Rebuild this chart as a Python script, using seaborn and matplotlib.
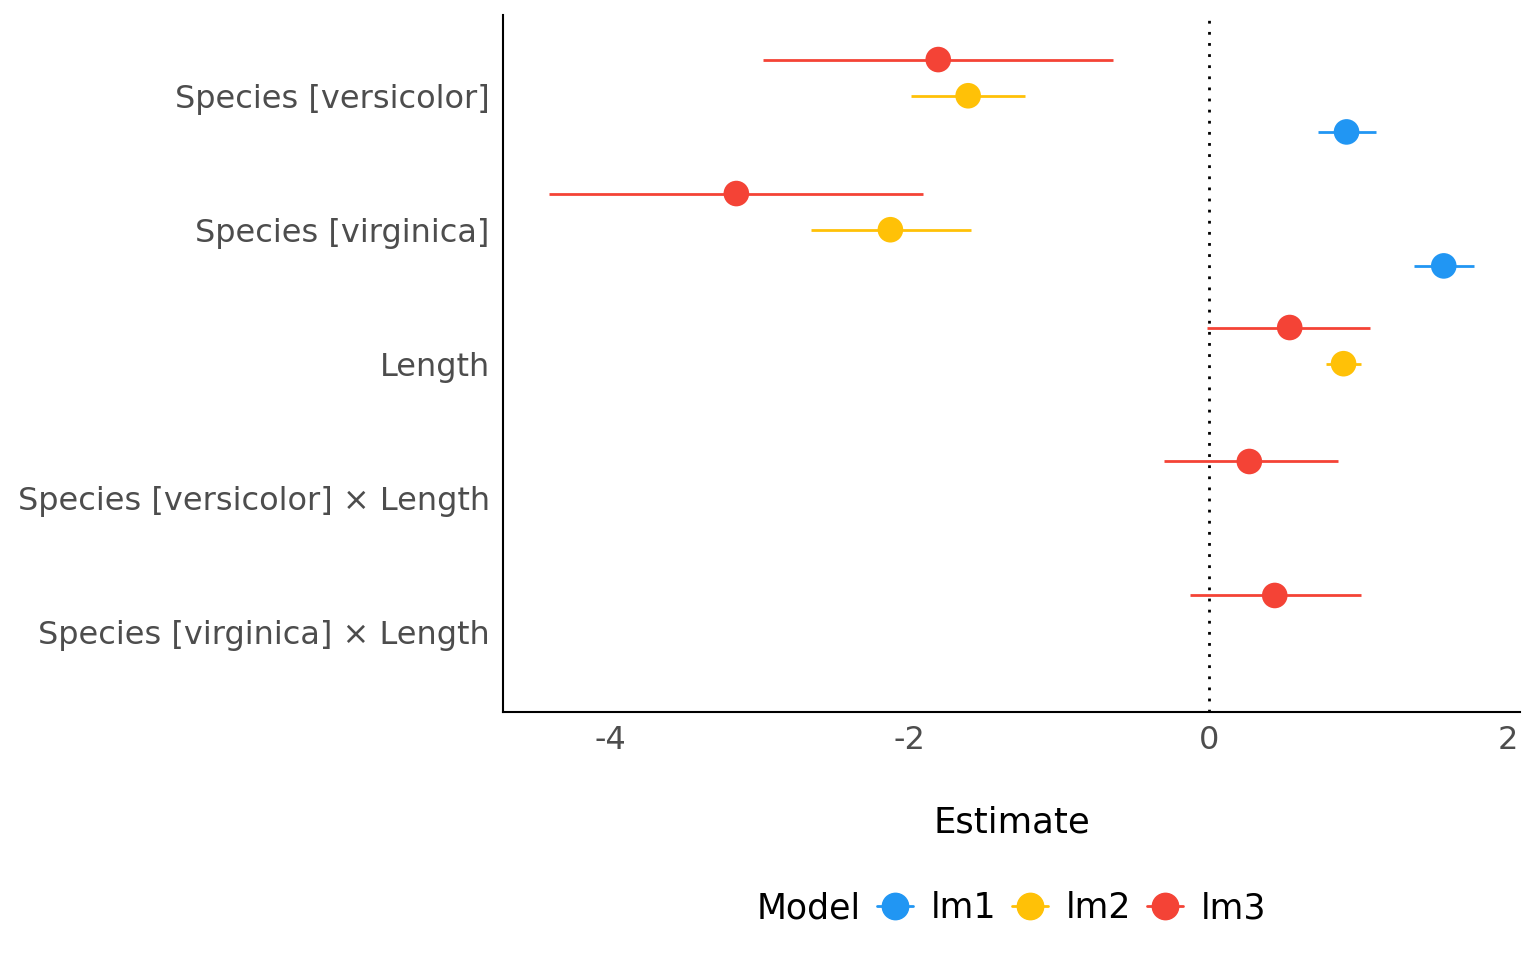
import numpy as np
import pandas as pd
import seaborn as sns
import matplotlib.pyplot as plt
from matplotlib.lines import Line2D

terms = ["Species [versicolor]", "Species [virginica]", "Length",
         "Species [versicolor] × Length", "Species [virginica] × Length"]
models = ["lm1", "lm2", "lm3"]
colors = {"lm1": "#2196F3", "lm2": "#FFC107", "lm3": "#F44336"}

# estimates and intervals (None = term not in model)
est = {
    "lm1": [0.92, 1.57, None, None, None],
    "lm2": [-1.61, -2.13, 0.90, None, None],
    "lm3": [-1.81, -3.16, 0.54, 0.27, 0.44],
}
low = {
    "lm1": [0.73, 1.37, None, None, None],
    "lm2": [-1.99, -2.66, 0.78, None, None],
    "lm3": [-2.98, -4.41, -0.01, -0.30, -0.13],
}
high = {
    "lm1": [1.12, 1.77, None, None, None],
    "lm2": [-1.23, -1.59, 1.02, None, None],
    "lm3": [-0.64, -1.91, 1.08, 0.86, 1.02],
}

rows = []
for m in models:
    for i, t in enumerate(terms):
        if est[m][i] is not None:
            rows.append({"term": t, "model": m, "estimate": est[m][i],
                         "lo": low[m][i], "hi": high[m][i]})
df = pd.DataFrame(rows)

offset = {"lm1": 0.27, "lm2": 0.0, "lm3": -0.27}
df["y"] = df["term"].map({t: i for i, t in enumerate(terms)}) + df["model"].map(offset)

sns.set_style("white")
plt.rcParams["font.family"] = ["DejaVu Sans"]
plt.rcParams["axes.unicode_minus"] = False
plt.rcParams["text.color"] = "black"

fig = plt.figure(figsize=(15.36, 9.6), dpi=100)
ax = fig.add_axes([0.3275, 0.2583, 0.6621, 0.7257])

ax.axvline(0, color="black", lw=2, linestyle=(0, (1, 3)), zorder=1)
for m in models:
    d = df[df["model"] == m]
    ax.hlines(d["y"], d["lo"], d["hi"], color=colors[m], lw=2, zorder=2)
sns.scatterplot(data=df, x="estimate", y="y", hue="model", palette=colors,
                s=340, edgecolor="none", legend=False, ax=ax, zorder=3)

ax.set_ylim(4.6, -0.6)
ax.set_xlim(-4.72, 2.08)
ax.set_yticks(range(len(terms)))
ax.set_yticklabels(terms)
ax.set_xticks([-4, -2, 0, 2])
ax.tick_params(axis="both", length=0, labelsize=23, labelcolor="#4D4D4D")
ax.tick_params(axis="y", pad=9.5)
ax.tick_params(axis="x", pad=9)
ax.set_xlabel("Estimate", fontsize=25.5, color="black", labelpad=36)
ax.set_ylabel("")
for s in ["top", "right"]:
    ax.spines[s].set_visible(False)
for s in ["left", "bottom"]:
    ax.spines[s].set_color("black")
    ax.spines[s].set_linewidth(1.5)

# "Model" acts as an inline legend title (invisible first handle)
handles = [Line2D([], [], linestyle="none", label="Model")]
for m in models:
    handles.append(Line2D([], [], color=colors[m], marker="o", markersize=19,
                          lw=2, label=m))
leg = fig.legend(handles=handles, loc="center", bbox_to_anchor=(0.641, 0.054),
                 ncol=4, frameon=False, fontsize=25, handlelength=1.05,
                 handletextpad=0.5, columnspacing=0.45, labelcolor="black")
leg.legend_handles[0].set_visible(False)

fig.savefig("out.png", dpi=100)
